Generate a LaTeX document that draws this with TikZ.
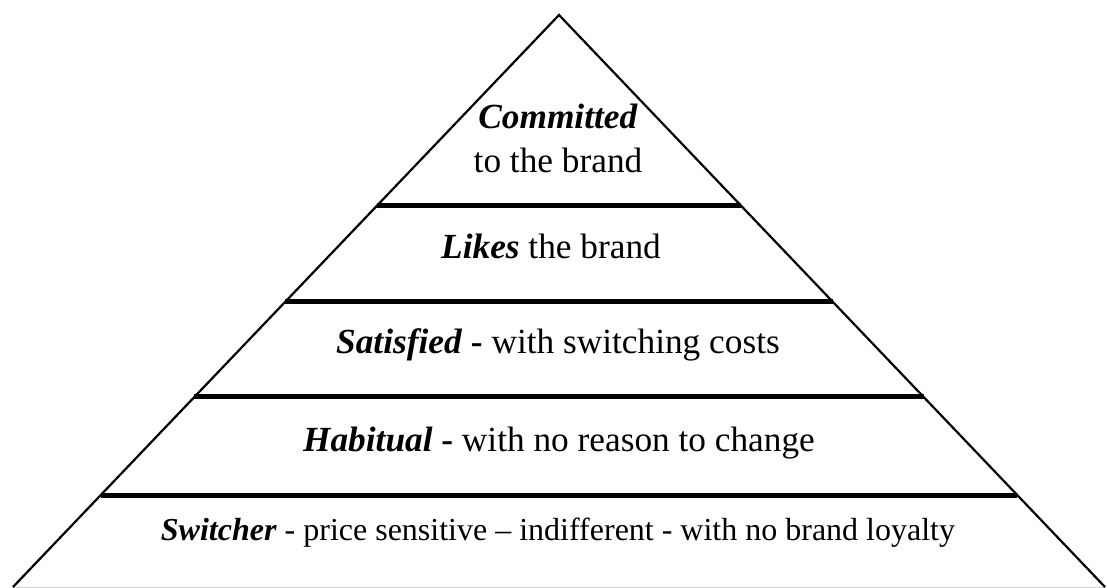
\documentclass[tikz,border=0pt]{standalone}
\usepackage{fontspec}
\setmainfont{Liberation Serif}
\usetikzlibrary{calc}
\begin{document}
\begin{tikzpicture}[x=1pt,y=-1pt,
  edge/.style={line width=2.2pt,line join=miter},
  sep/.style={line width=5pt},
  baseline/.style={line width=1pt,black!18},
  lvl/.style={anchor=base,inner sep=0pt,font=\fontsize{35.3}{40}\selectfont},
  lvlsmall/.style={anchor=base,inner sep=0pt,font=\fontsize{32}{36}\selectfont}]
  \useasboundingbox (0,0) rectangle (1107,588);
  % pyramid outline
  \coordinate (A) at (559,15);
  \coordinate (L) at (13,587);
  \coordinate (R) at (1105,587);
  \draw[baseline] (L) -- (R);
  \draw[edge] (L) -- (A) -- (R);
  % level dividers
  \foreach \t in {0.6661,0.4983,0.3322,0.1608}
    \draw[sep] ($(L)!\t!(A)$) -- ($(R)!\t!(A)$);
  % level labels
  \node[lvl] (c1) at (558,129) {\textbf{\textit{Committed}}};
  \node[lvl] (c2) at (558,173) {to the brand};
  \node[lvl] (lk) at (551,258) {\textbf{\textit{Likes}} the brand};
  \node[lvl] (st) at (558,353) {\textbf{\textit{Satisfied} -} with switching costs};
  \node[lvl] (hb) at (559,451) {\textbf{\textit{Habitual} -} with no reason to change};
  \node[lvlsmall] (sw) at (558,540) {\textbf{\textit{Switcher}} - price sensitive -- indifferent - with no brand loyalty};
\end{tikzpicture}
\end{document}
